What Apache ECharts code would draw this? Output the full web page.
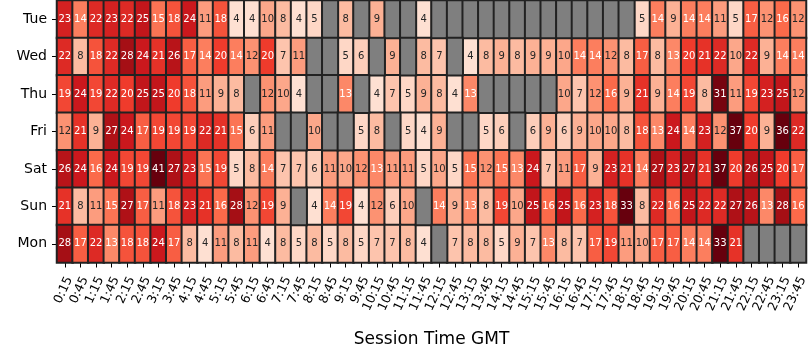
<!DOCTYPE html>
<html><head><meta charset="utf-8">
<script src="https://cdn.jsdelivr.net/npm/echarts@6/dist/echarts.min.js"></script>
<style>html,body{margin:0;padding:0;background:#fff}#c{width:810px;height:360px}</style>
</head><body><div id="c"></div>
<script>
const N = null;
const days = ['Tue','Wed','Thu','Fri','Sat','Sun','Mon'];
const times = ['0:15','0:45','1:15','1:45','2:15','2:45','3:15','3:45','4:15','4:45','5:15','5:45',
  '6:15','6:45','7:15','7:45','8:15','8:45','9:15','9:45','10:15','10:45','11:15','11:45',
  '12:15','12:45','13:15','13:45','14:15','14:45','15:15','15:45','16:15','16:45','17:15','17:45',
  '18:15','18:45','19:15','19:45','20:15','20:45','21:15','21:45','22:15','22:45','23:15','23:45'];
const tue = [23,14,22,23,22,25,15,18,24,11,18,4,4,10,8,4,5,N,8,N,9,N,N,4,N,N,N,N,N,N,N,N,N,N,N,N,N,5,14,9,14,14,11,5,17,12,16,12];
const wed = [22,8,18,22,28,24,21,26,17,14,20,14,12,20,7,11,N,N,5,6,N,9,N,8,7,N,4,8,9,8,9,9,10,14,14,12,8,17,8,13,20,21,22,10,22,9,14,14];
const thu = [19,24,19,22,20,25,25,20,18,11,9,8,N,12,10,4,N,N,13,N,4,7,5,9,8,4,13,N,N,N,N,N,10,7,12,16,9,21,9,14,19,8,31,11,19,23,25,12];
const fri = [12,21,9,27,24,17,19,19,19,22,21,15,6,11,N,N,10,N,N,5,8,N,5,4,9,N,N,5,6,N,6,9,6,9,10,10,8,18,13,24,14,23,12,37,20,9,36,22];
const sat = [26,24,16,24,19,19,41,27,23,15,19,5,8,14,7,7,6,11,10,12,13,11,11,5,10,5,15,12,15,13,24,7,11,17,9,23,21,14,27,23,27,21,37,20,26,25,20,17];
const sun = [21,8,11,15,27,17,11,18,23,21,16,28,12,19,9,N,4,14,19,4,12,6,10,N,14,9,13,8,19,10,25,16,25,16,23,18,33,8,22,16,25,22,22,27,26,13,28,16];
const mon = [28,17,22,13,18,18,24,17,8,4,11,8,11,4,8,5,8,5,8,5,7,7,8,4,N,7,8,8,5,9,7,13,8,7,17,19,11,10,17,17,14,14,33,21,N,N,N,N];
const rows = [tue, wed, thu, fri, sat, sun, mon];

const FONT = 'DejaVu Sans';
const EDGE = '#222222';
const data = [], missing = [];
rows.forEach((row, y) => row.forEach((v, x) => {
  if (v === null) missing.push([x, y, 0]);
  else data.push({ value: [x, y, v], label: { color: v >= 13 ? '#ffffff' : '#262626' } });
}));

const chart = echarts.init(document.getElementById('c'), null, { renderer: 'canvas' });
chart.setOption({
  animation: false,
  backgroundColor: '#ffffff',
  grid: { left: 57, right: 1, top: 0.5, bottom: 97.5, containLabel: false },
  xAxis: {
    type: 'category', data: times,
    name: 'Session Time GMT', nameLocation: 'middle', nameGap: 69,
    nameTextStyle: { fontFamily: FONT, fontSize: 17, color: '#000' },
    axisLine: { show: false },
    axisTick: { show: true, alignWithLabel: true, length: 5, lineStyle: { color: '#000', width: 1 } },
    axisLabel: { interval: 0, rotate: 65, margin: 25, padding: [0, -11, 0, 0], fontFamily: FONT, fontSize: 12.5, color: '#000' },
    splitLine: { show: false }
  },
  yAxis: {
    type: 'category', data: days, inverse: true,
    axisLine: { show: false },
    axisTick: { show: true, alignWithLabel: true, length: 5, lineStyle: { color: '#000', width: 1 } },
    axisLabel: { margin: 10, fontFamily: FONT, fontSize: 14, color: '#000' },
    splitLine: { show: false }
  },
  visualMap: {
    type: 'continuous', show: false, min: 0, max: 32, seriesIndex: 0, dimension: 2,
    inRange: { color: ['#fff5f0','#fee0d2','#fcbba1','#fc9272','#fb6a4a','#ef3b2c','#cb181d','#a50f15','#67000d'] }
  },
  series: [
    {
      type: 'heatmap', data: data,
      itemStyle: { borderColor: EDGE, borderWidth: 2 },
      label: { show: true, fontFamily: FONT, fontSize: 10, formatter: p => String(p.value[2]) },
      emphasis: { disabled: true }
    },
    {
      type: 'heatmap', data: missing,
      itemStyle: { color: '#7f7f7f', borderColor: EDGE, borderWidth: 2 },
      label: { show: false },
      emphasis: { disabled: true }
    }
  ]
});
</script></body></html>
